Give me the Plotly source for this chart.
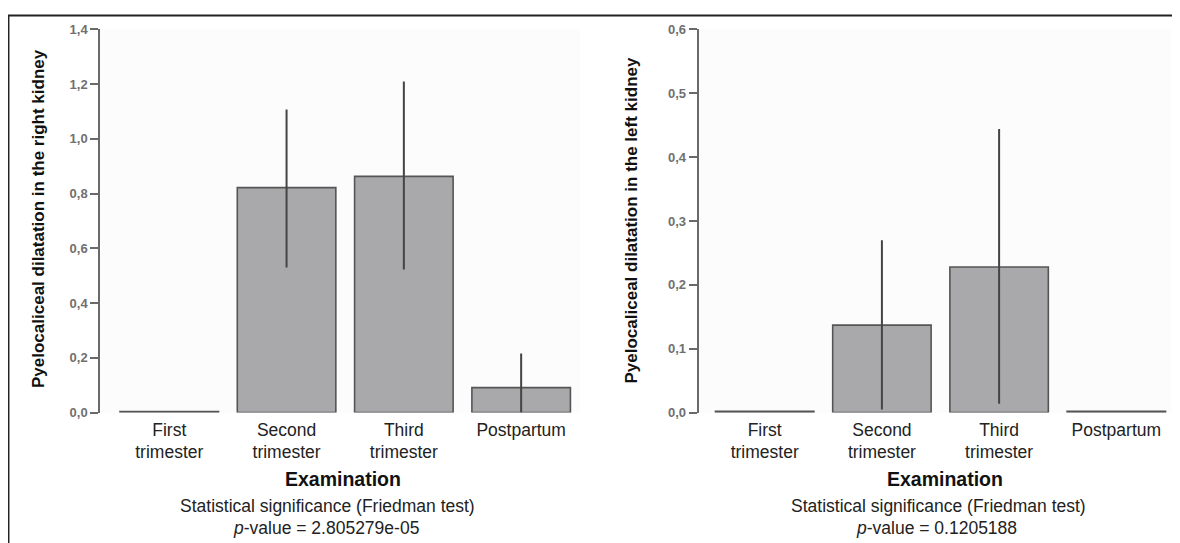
import plotly.graph_objects as go

# The figure appears on screen shifted by 8px horizontally, and vertically as
# screen_y ~= 14.6 + 0.972 * figure_y (measured); positions below are given in
# reference-screen pixels and converted.
OFF_X = 8
Y0, KY = 14.6, 0.972
W, H = 1164, 544

categories = ["First<br>trimester", "Second<br>trimester", "Third<br>trimester", "Postpartum"]

right_values = [0.004, 0.822, 0.863, 0.091]
right_upper = [0.004, 1.107, 1.21, 0.216]
right_lower = [0.004, 0.53, 0.523, 0.0]

left_values = [0.002, 0.137, 0.228, 0.002]
left_upper = [0.002, 0.27, 0.444, 0.002]
left_lower = [0.002, 0.005, 0.014, 0.002]

right_ticks = [0.0, 0.2, 0.4, 0.6, 0.8, 1.0, 1.2, 1.4]
left_ticks = [0.0, 0.1, 0.2, 0.3, 0.4, 0.5, 0.6]

ytitle_right = "Pyelocaliceal dilatation in the right kidney"
ytitle_left = "Pyelocaliceal dilatation in the left kidney"
xtitle = "Examination"
stat_line = "Statistical significance (Friedman test)"
pval_right = "<i>p</i>-value = 2.805279e-05"
pval_left = "<i>p</i>-value = 0.1205188"

BAR_FILL = "#a9a9ab"
BAR_EDGE = "#555555"
ERR_COL = "#444444"
FONT = "Liberation Sans"


def px_x(s):
    return (s - OFF_X) / W


def px_y(s):
    f = (s - Y0) / KY
    return max(0.0, min(1.0, 1 - f / H))


fig = go.Figure()


def add_panel(vals, up, lo, xa, ya):
    fig.add_trace(go.Bar(
        x=categories, y=vals, xaxis=xa, yaxis=ya,
        marker=dict(color=BAR_FILL, line=dict(color=BAR_EDGE, width=1.6)),
        width=0.84,
        error_y=dict(type="data", symmetric=False,
                     array=[u - v for u, v in zip(up, vals)],
                     arrayminus=[v - l for v, l in zip(vals, lo)],
                     width=0, thickness=2, color=ERR_COL),
        showlegend=False, hoverinfo="skip",
    ))


add_panel(right_values, right_upper, right_lower, "x", "y")
add_panel(left_values, left_upper, left_lower, "x2", "y2")

ydom = [px_y(412), px_y(29)]

xcommon = dict(showline=False, showgrid=False, zeroline=False,
               ticks="outside", ticklen=1, tickcolor="rgba(0,0,0,0)",
               tickfont=dict(family=FONT, size=17.5, color="#222222"),
               type="category")
ycommon = dict(showline=True, linecolor="#6a6a6a", linewidth=2, showgrid=False,
               zeroline=False, ticks="outside", ticklen=8, tickwidth=1.5,
               tickcolor="#6a6a6a", tickformat=".1f",
               tickfont=dict(family=FONT, size=13, color="#707070", weight="bold"))

fig.update_layout(
    width=W, height=H,
    margin=dict(l=0, r=0, t=0, b=0),
    paper_bgcolor="white", plot_bgcolor="#fcfcfc",
    separators=",.",
    xaxis=dict(domain=[px_x(100.3), px_x(579.8)], range=[-0.588, 3.5], anchor="y", **xcommon),
    yaxis=dict(domain=ydom, range=[0, 1.4], tickvals=right_ticks, anchor="x", **ycommon),
    xaxis2=dict(domain=[px_x(698.6), px_x(1171.4)], range=[-0.564, 3.47], anchor="y2", **xcommon),
    yaxis2=dict(domain=ydom, range=[0, 0.6], tickvals=left_ticks, anchor="x2", **ycommon),
)

ann = []
for ex, sx, px_, title, pv, tx, ty in [(342.5, 327, 326, ytitle_right, pval_right, 39, 218.5),
                                       (944.7, 938, 936, ytitle_left, pval_left, 631, 220)]:
    common = dict(xref="paper", yref="paper", showarrow=False,
                  xanchor="center", yanchor="middle")
    ann.append(dict(x=px_x(ex), y=px_y(478), text="<b>" + xtitle + "</b>",
                    font=dict(family=FONT, size=19.5, color="#111111"), **common))
    ann.append(dict(x=px_x(sx), y=px_y(505), text=stat_line,
                    font=dict(family=FONT, size=17.5, color="#222222"), **common))
    ann.append(dict(x=px_x(px_), y=px_y(527), text=pv,
                    font=dict(family=FONT, size=17.5, color="#222222"), **common))
    ann.append(dict(x=px_x(tx), y=px_y(ty), text="<b>" + title + "</b>", textangle=-90,
                    font=dict(family=FONT, size=17, color="#111111"), **common))
fig.update_layout(annotations=ann)

fig.update_layout(shapes=[
    dict(type="line", xref="paper", yref="paper", x0=px_x(8), x1=1, y0=0.999, y1=0.999,
         line=dict(color="#222222", width=2)),
    dict(type="line", xref="paper", yref="paper", x0=px_x(8.7), x1=px_x(8.7), y0=0, y1=0.999,
         line=dict(color="#222222", width=1.5)),
])

fig.write_html("out.html")
